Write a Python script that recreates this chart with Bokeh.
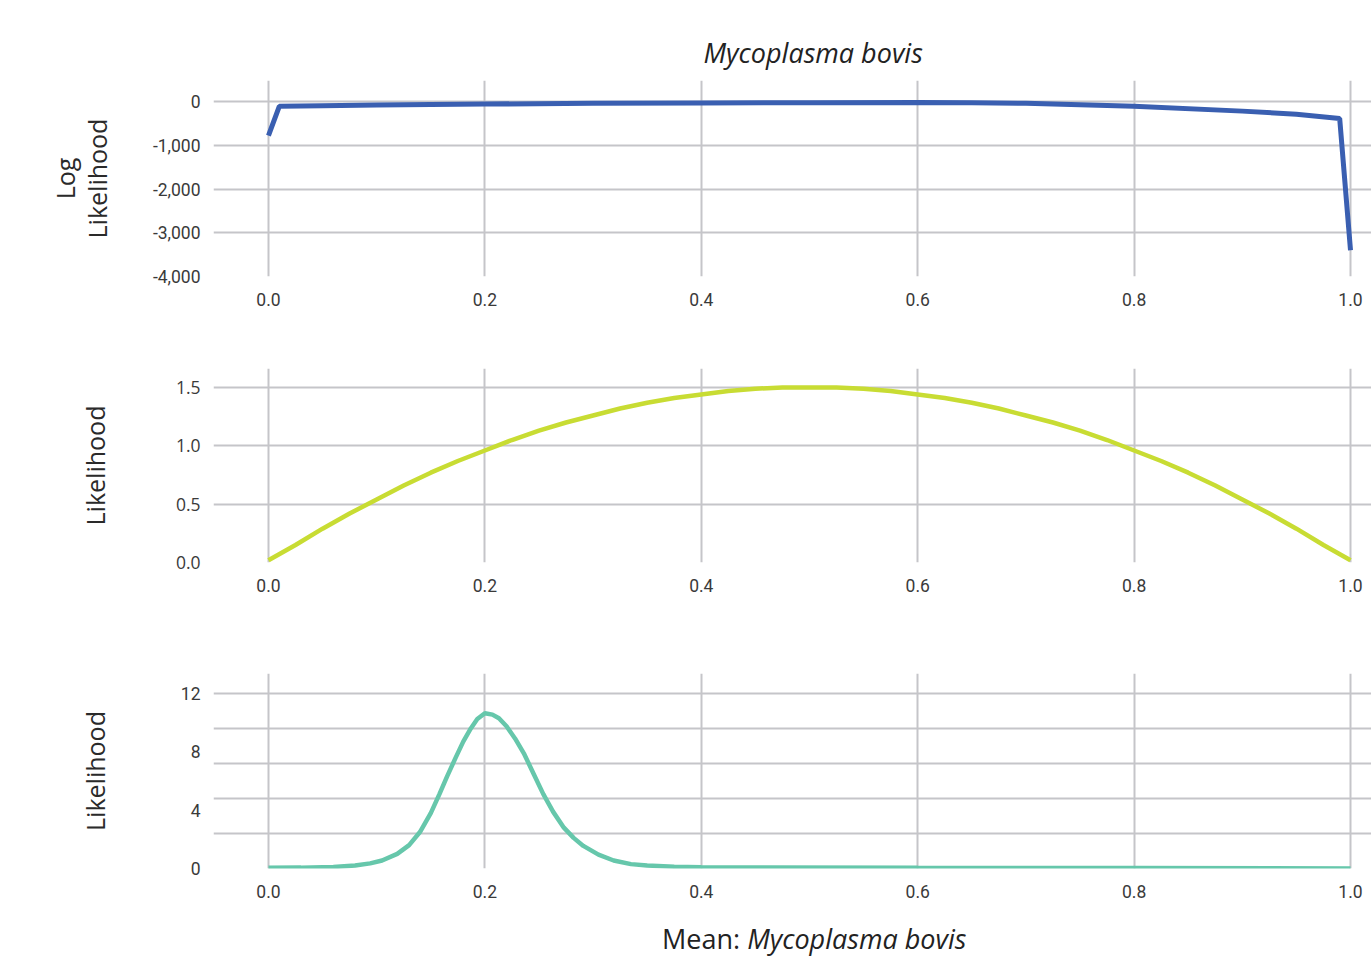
from bokeh.plotting import figure
from bokeh.layouts import column
from bokeh.models import Range1d, FixedTicker, NumeralTickFormatter, Title, Div
from bokeh.embed import file_html
from bokeh.resources import INLINE

# ---- data ----
x_ticks = [0.0, 0.2, 0.4, 0.6, 0.8, 1.0]

log_x = [0.0, 0.01, 0.05, 0.1, 0.2, 0.3, 0.4, 0.5, 0.6, 0.65, 0.7, 0.8, 0.9, 0.95, 0.99, 1.0]
log_y = [-780, -110, -95, -80, -58, -42, -32, -26, -25, -28, -40, -110, -220, -290, -390, -3400]
log_ticks = [0, -1000, -2000, -3000, -4000]

mid_x = [0.0, 0.025, 0.05, 0.075, 0.1, 0.125, 0.15, 0.175, 0.2, 0.225, 0.25, 0.275, 0.3,
         0.325, 0.35, 0.375, 0.4, 0.425, 0.45, 0.475, 0.5, 0.525, 0.55, 0.575, 0.6, 0.625,
         0.65, 0.675, 0.7, 0.725, 0.75, 0.775, 0.8, 0.825, 0.85, 0.875, 0.9, 0.925, 0.95,
         0.975, 1.0]
mid_y = [0.02, 0.15, 0.29, 0.42, 0.54, 0.66, 0.77, 0.87, 0.96, 1.05, 1.13, 1.20, 1.26,
         1.32, 1.37, 1.41, 1.44, 1.47, 1.49, 1.50, 1.50, 1.50, 1.49, 1.47, 1.44, 1.41,
         1.37, 1.32, 1.26, 1.20, 1.13, 1.05, 0.96, 0.87, 0.77, 0.66, 0.54, 0.42, 0.29,
         0.15, 0.02]
mid_ticks = [0.0, 0.5, 1.0, 1.5]

bot_x = [0.0, 0.03, 0.06, 0.08, 0.094, 0.105, 0.119, 0.13, 0.14, 0.15, 0.158, 0.165,
         0.173, 0.18, 0.187, 0.193, 0.2, 0.207, 0.213, 0.22, 0.228, 0.236, 0.245, 0.254,
         0.263, 0.273, 0.282, 0.291, 0.305, 0.319, 0.335, 0.35, 0.375, 0.4, 0.6, 0.8, 1.0]
bot_y = [0.05, 0.06, 0.1, 0.2, 0.35, 0.55, 1.0, 1.6, 2.5, 3.8, 5.1, 6.3,
         7.6, 8.7, 9.6, 10.25, 10.65, 10.55, 10.3, 9.75, 8.9, 7.9, 6.5, 5.1,
         3.9, 2.8, 2.1, 1.55, 0.95, 0.55, 0.3, 0.2, 0.12, 0.08, 0.05, 0.03, 0.0]
bot_ticks = [0, 4, 8, 12]
bot_grid = [0, 2.4, 4.8, 7.2, 9.6, 12]

title_text = "Mycoplasma bovis"
xlabel_plain = "Mean:"
xlabel_italic = "Mycoplasma bovis"

GRID = "#c5c5c9"
TICKC = "#3a3a3a"
W = 1371


def base(height, top, bottom, yr, ylabel, ystand):
    p = figure(width=W, height=height, x_range=Range1d(-0.0508, 1.0194), y_range=yr,
               output_backend="svg", toolbar_location=None,
               min_border_left=213, min_border_right=0, min_border_top=top,
               min_border_bottom=bottom)
    p.outline_line_color = None
    p.background_fill_color = "white"
    p.border_fill_color = "white"
    for ax in (p.xaxis[0], p.yaxis[0]):
        ax.axis_line_color = None
        ax.major_tick_line_color = None
        ax.minor_tick_line_color = None
        ax.major_tick_out = 0
        ax.major_tick_in = 0
        ax.major_label_text_color = TICKC
        ax.major_label_text_font = "Roboto"
        ax.major_label_text_font_size = "17.5px"
    p.xaxis.ticker = FixedTicker(ticks=x_ticks)
    p.xaxis.formatter = NumeralTickFormatter(format="0.0")
    p.xaxis.major_label_standoff = 16
    p.yaxis.major_label_standoff = 13
    p.yaxis.axis_label = ylabel
    p.yaxis.axis_label_text_font = "Open Sans"
    p.yaxis.axis_label_text_font_style = "normal"
    p.yaxis.axis_label_text_font_size = "25px"
    p.yaxis.axis_label_text_color = "#2a2a2a"
    p.yaxis.axis_label_text_line_height = 0.95
    p.yaxis.axis_label_standoff = ystand
    p.xgrid.grid_line_color = GRID
    p.ygrid.grid_line_color = GRID
    p.xgrid.grid_line_width = 2
    p.ygrid.grid_line_width = 2
    return p


# top panel
p1 = base(330, 80, 54, Range1d(-4000, 480), "Log\nLikelihood", 36)
p1.title = Title(text=title_text, align="left", offset=490, standoff=19,
                 text_font="Open Sans", text_font_style="italic", text_font_size="27px",
                 text_color="#222222")
p1.yaxis.ticker = FixedTicker(ticks=log_ticks)
p1.yaxis.formatter = NumeralTickFormatter(format="0,0")
p1.line(log_x, log_y, line_color="#3a5fb1", line_width=5)

# middle panel
p2 = base(310, 38, 78, Range1d(0, 1.663), "Likelihood", 61)
p2.yaxis.ticker = FixedTicker(ticks=mid_ticks)
p2.yaxis.formatter = NumeralTickFormatter(format="0.0")
p2.yaxis.major_label_text_font = "Open Sans"
p2.line(mid_x, mid_y, line_color="#c8dc33", line_width=4.5)

# bottom panel
p3 = base(275, 33, 47, Range1d(0, 13.37), "Likelihood", 66)
p3.yaxis.ticker = FixedTicker(ticks=bot_ticks)
p3.ygrid.ticker = FixedTicker(ticks=bot_grid)
p3.line(bot_x, bot_y, line_color="#66c7ab", line_width=4.5)

xlabel = Div(text=f"{xlabel_plain} <i>{xlabel_italic}</i>", width=W, height=41,
             margin=(0, 0, 0, 0),
             styles={"font-family": "Open Sans", "font-size": "27px", "color": "#222222",
                     "padding-left": "662px", "line-height": "48px", "white-space": "nowrap"})

layout = column(p1, p2, p3, xlabel, spacing=0)
open("out.html", "w").write(file_html(layout, INLINE))
